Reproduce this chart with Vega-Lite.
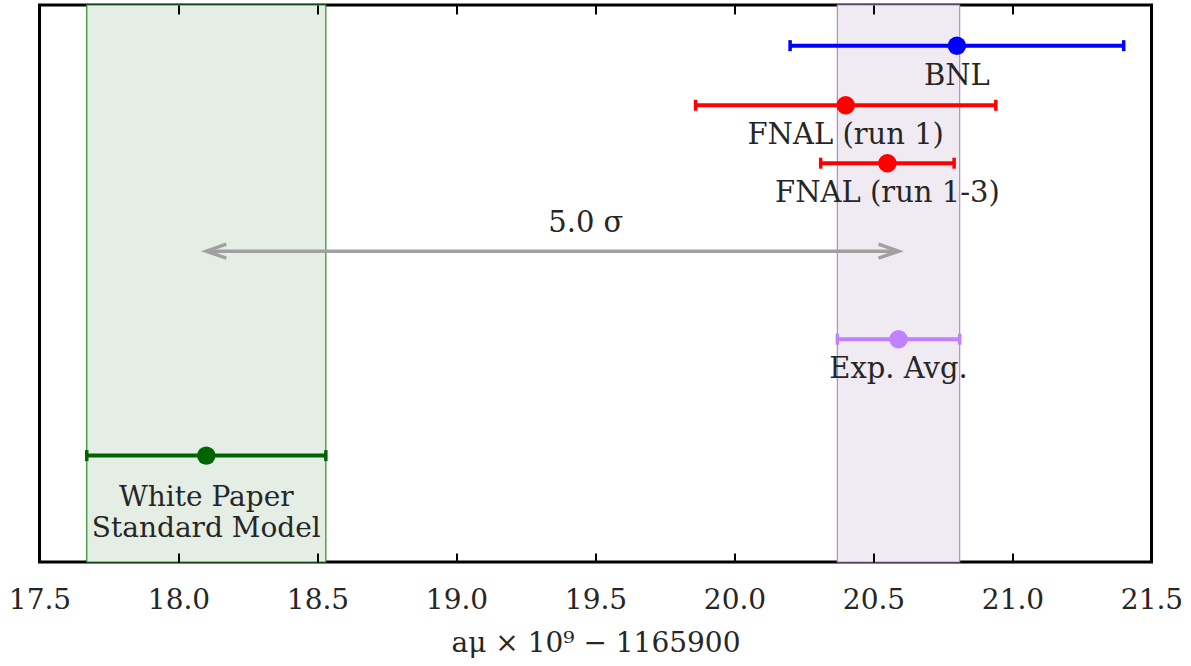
{
  "$schema": "https://vega.github.io/schema/vega-lite/v6.json",
  "width": 1112,
  "height": 557,
  "autosize": "none",
  "padding": {"left": 39.5, "top": 5, "right": 39.5, "bottom": 104},
  "background": "white",
  "config": {
    "view": {"stroke": "black", "strokeWidth": 3},
    "font": "DejaVu Serif"
  },
  "datasets": {
    "meas": [
      {"name": "BNL", "label": "BNL", "value": 20.80, "lo": 20.20, "hi": 21.40, "row": 7.3},
      {"name": "FNAL (run 1)", "label": "FNAL (run 1)", "value": 20.40, "lo": 19.86, "hi": 20.94, "row": 18.0},
      {"name": "FNAL (run 1-3)", "label": "FNAL (run 1-3)", "value": 20.55, "lo": 20.31, "hi": 20.79, "row": 28.4},
      {"name": "Exp. Avg.", "label": "Exp. Avg.", "value": 20.59, "lo": 20.37, "hi": 20.81, "row": 60.0},
      {"name": "White Paper SM", "label": "White Paper\nStandard Model", "value": 18.10, "lo": 17.67, "hi": 18.53, "row": 80.9}
    ],
    "arrow": [
      {"from": 18.10, "to": 20.59, "mid": 19.33, "row": 44.2, "text": "5.0 σ"}
    ]
  },
  "resolve": {"axis": {"x": "independent"}},
  "layer": [
    {
      "data": {"name": "meas"},
      "transform": [{"filter": {"field": "name", "oneOf": ["Exp. Avg.", "White Paper SM"]}}],
      "mark": {"type": "rect", "strokeWidth": 1.2},
      "encoding": {
        "x": {
          "field": "lo", "type": "quantitative",
          "scale": {"domain": [17.5, 21.5], "nice": false, "zero": false},
          "axis": {
            "orient": "bottom",
            "offset": -9,
            "zindex": 1,
            "values": [17.5, 18.0, 18.5, 19.0, 19.5, 20.0, 20.5, 21.0, 21.5],
            "format": ".1f",
            "domain": false,
            "grid": false,
            "ticks": true,
            "tickSize": 9,
            "tickWidth": 2,
            "tickColor": "black",
            "tickOpacity": 1,
            "labelFont": "DejaVu Serif",
            "labelFontSize": 28,
            "labelColor": "#262626",
            "labelBaseline": "alphabetic",
            "labelPadding": 46,
            "labelFlush": false,
            "labelOverlap": false,
            "title": "aμ × 10⁹ − 1165900",
            "titleFont": "DejaVu Serif",
            "titleFontSize": 28,
            "titleFontWeight": "normal",
            "titleColor": "#262626",
            "titleBaseline": "alphabetic",
            "titleY": 98
          }
        },
        "x2": {"field": "hi"},
        "fill": {
          "field": "name", "type": "nominal", "legend": null,
          "scale": {"domain": ["White Paper SM", "Exp. Avg."], "range": ["#e4eee4", "#f0ebf3"]}
        },
        "stroke": {
          "field": "name", "type": "nominal", "legend": null,
          "scale": {"domain": ["White Paper SM", "Exp. Avg."], "range": ["#2e8b2e", "#b08cc4"]}
        }
      }
    },
    {
      "data": {"name": "meas"},
      "mark": {"type": "rule", "strokeWidth": 4},
      "encoding": {
        "x": {
          "field": "lo", "type": "quantitative",
          "axis": {
            "orient": "top",
            "offset": -9,
            "zindex": 1,
            "values": [17.5, 18.0, 18.5, 19.0, 19.5, 20.0, 20.5, 21.0, 21.5],
            "domain": false,
            "grid": false,
            "labels": false,
            "ticks": true,
            "tickSize": 9,
            "tickWidth": 2,
            "tickColor": "black",
            "tickOpacity": 1,
            "title": null
          }
        },
        "x2": {"field": "hi"},
        "y": {"field": "row", "type": "quantitative", "scale": {"domain": [0, 100], "reverse": true, "nice": false}, "axis": null},
        "color": {
          "field": "name", "type": "nominal", "legend": null,
          "scale": {
            "domain": ["BNL", "FNAL (run 1)", "FNAL (run 1-3)", "Exp. Avg.", "White Paper SM"],
            "range": ["#0000ff", "#ff0000", "#ff0000", "#c080ff", "#006400"]
          }
        }
      }
    },
    {
      "data": {"name": "meas"},
      "transform": [{"fold": ["lo", "hi"], "as": ["end", "pos"]}],
      "mark": {"type": "point", "shape": "M 0 -1 L 0 1", "size": 121, "filled": false, "strokeWidth": 3.5, "opacity": 1},
      "encoding": {
        "x": {"field": "pos", "type": "quantitative", "axis": null},
        "y": {"field": "row", "type": "quantitative", "axis": null},
        "color": {"field": "name", "type": "nominal", "legend": null}
      }
    },
    {
      "data": {"name": "meas"},
      "mark": {"type": "circle", "size": 340, "opacity": 1},
      "encoding": {
        "x": {"field": "value", "type": "quantitative", "axis": null},
        "y": {"field": "row", "type": "quantitative", "axis": null},
        "color": {"field": "name", "type": "nominal", "legend": null}
      }
    },
    {
      "data": {"name": "meas"},
      "transform": [{"filter": "datum.name != 'White Paper SM'"}],
      "mark": {"type": "text", "font": "DejaVu Serif", "fontSize": 29, "color": "#262626", "baseline": "middle", "align": "center", "dy": 30},
      "encoding": {
        "x": {"field": "value", "type": "quantitative", "axis": null},
        "y": {"field": "row", "type": "quantitative", "axis": null},
        "text": {"field": "label"}
      }
    },
    {
      "data": {"name": "meas"},
      "transform": [{"filter": "datum.name == 'White Paper SM'"}],
      "mark": {"type": "text", "font": "DejaVu Serif", "fontSize": 28, "color": "#262626", "baseline": "middle", "align": "center", "dy": 42, "lineBreak": "\n", "lineHeight": 31},
      "encoding": {
        "x": {"field": "value", "type": "quantitative", "axis": null},
        "y": {"field": "row", "type": "quantitative", "axis": null},
        "text": {"field": "label"}
      }
    },
    {
      "data": {"name": "arrow"},
      "mark": {"type": "rule", "strokeWidth": 3.5, "color": "#a0a0a0"},
      "encoding": {
        "x": {"field": "from", "type": "quantitative", "axis": null},
        "x2": {"field": "to"},
        "y": {"field": "row", "type": "quantitative", "axis": null}
      }
    },
    {
      "data": {"name": "arrow"},
      "mark": {"type": "point", "shape": "M -2 -0.7 L 0 0 L -2 0.7", "size": 400, "filled": false, "strokeWidth": 3.5, "color": "#a0a0a0", "opacity": 1},
      "encoding": {
        "x": {"field": "to", "type": "quantitative", "axis": null},
        "y": {"field": "row", "type": "quantitative", "axis": null}
      }
    },
    {
      "data": {"name": "arrow"},
      "mark": {"type": "point", "shape": "M 2 -0.7 L 0 0 L 2 0.7", "size": 400, "filled": false, "strokeWidth": 3.5, "color": "#a0a0a0", "opacity": 1},
      "encoding": {
        "x": {"field": "from", "type": "quantitative", "axis": null},
        "y": {"field": "row", "type": "quantitative", "axis": null}
      }
    },
    {
      "data": {"name": "arrow"},
      "mark": {"type": "text", "font": "DejaVu Serif", "fontSize": 29, "color": "#262626", "baseline": "middle", "align": "left", "dy": -28},
      "encoding": {
        "x": {"field": "mid", "type": "quantitative", "axis": null},
        "y": {"field": "row", "type": "quantitative", "axis": null},
        "text": {"field": "text"}
      }
    }
  ]
}
